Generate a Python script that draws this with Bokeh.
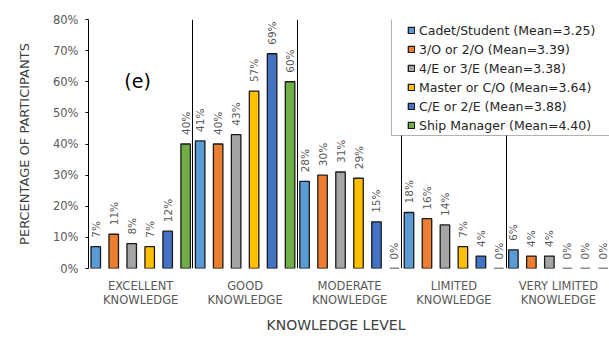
import math

from bokeh.core.properties import value
from bokeh.embed import file_html
from bokeh.models import (BoxAnnotation, ColumnDataSource, FixedTicker, Label,
                          Legend, LegendItem, PrintfTickFormatter, Range1d,
                          Title)
from bokeh.plotting import figure
from bokeh.resources import INLINE

# ---- data -------------------------------------------------------------
levels = ["EXCELLENT\nKNOWLEDGE", "GOOD\nKNOWLEDGE", "MODERATE\nKNOWLEDGE",
          "LIMITED\nKNOWLEDGE", "VERY LIMITED\nKNOWLEDGE"]
ranks = ["Cadet/Student (Mean=3.25)", "3/O or 2/O (Mean=3.39)",
         "4/E or 3/E (Mean=3.38)", "Master or C/O (Mean=3.64)",
         "C/E or 2/E (Mean=3.88)", "Ship Manager (Mean=4.40)"]
cadet = [7, 41, 28, 18, 6]
officer_3o_2o = [11, 40, 30, 16, 4]
engineer_4e_3e = [8, 43, 31, 14, 4]
master_co = [7, 57, 29, 7, 0]
engineer_ce_2e = [12, 69, 15, 4, 0]
ship_manager = [40, 60, 0, 0, 0]
series = [cadet, officer_3o_2o, engineer_4e_3e, master_co, engineer_ce_2e, ship_manager]
colors = ["#5B9BD5", "#ED7D31", "#A5A5A5", "#FFC000", "#4472C4", "#70AD47"]
y_ticks = [0, 10, 20, 30, 40, 50, 60, 70, 80]

FONT = "DejaVu Sans"
TXT = "#595959"

# ---- figure -----------------------------------------------------------
p = figure(width=609, height=338, output_backend="svg", toolbar_location=None,
           x_range=Range1d(0, 4.99), y_range=Range1d(0, 80),
           min_border_left=88, min_border_right=0, min_border_top=19,
           min_border_bottom=70, background_fill_color="white",
           border_fill_color="white")
p.outline_line_color = None

# category separators, left edge, bottom and top edges of the plot box
p.xgrid.ticker = FixedTicker(ticks=[0, 1, 2, 3, 4])
p.xgrid.grid_line_color = "black"
p.xgrid.grid_line_width = 1
p.ygrid.ticker = FixedTicker(ticks=[0, 80])
p.ygrid.grid_line_color = "black"

# y axis
p.yaxis.ticker = FixedTicker(ticks=y_ticks)
p.yaxis.formatter = PrintfTickFormatter(format="%d%%")
p.yaxis.axis_line_color = "black"
p.yaxis.major_tick_line_color = "black"
p.yaxis.major_tick_in = 0
p.yaxis.major_tick_out = 3
p.yaxis.minor_tick_line_color = None
p.yaxis.major_label_standoff = 7
p.yaxis.major_label_text_font = FONT
p.yaxis.major_label_text_font_size = "11.5px"
p.yaxis.major_label_text_color = TXT
p.yaxis.axis_label = "PERCENTAGE OF PARTICIPANTS"
p.yaxis.axis_label_standoff = 18
p.yaxis.axis_label_text_font = FONT
p.yaxis.axis_label_text_font_size = "13px"
p.yaxis.axis_label_text_font_style = "normal"
p.yaxis.axis_label_text_color = "#404040"

# x axis with two-line category names
p.xaxis.ticker = FixedTicker(ticks=[i + 0.5 for i in range(len(levels))])
p.xaxis.major_label_overrides = {i + 0.5: lab for i, lab in enumerate(levels)}
p.xaxis.axis_line_color = None
p.xaxis.major_tick_line_color = None
p.xaxis.minor_tick_line_color = None
p.xaxis.major_label_standoff = 4
p.xaxis.major_label_text_font = FONT
p.xaxis.major_label_text_font_size = "11.5px"
p.xaxis.major_label_text_line_height = 1.05
p.xaxis.major_label_text_color = TXT

# x axis title, set a little left of the plot centre
p.add_layout(Title(text="KNOWLEDGE LEVEL", align="left", offset=178,
                   standoff=8, text_font=FONT, text_font_size="14px",
                   text_font_style="normal", text_color="#404040"), "below")

# ---- bars and value labels -------------------------------------------
step = 0.1722
bar_w = 0.091
items = []
for j, (vals, col, name) in enumerate(zip(series, colors, ranks)):
    xs = [i + 0.5 + (j - 2.5) * step for i in range(len(levels))]
    src = ColumnDataSource(dict(x=xs, top=vals, lab=[f"{v}%" for v in vals]))
    r = p.vbar(x="x", top="top", width=bar_w, source=src, fill_color=col,
               line_color="#1a1a1a", line_width=1.3)
    p.text(x="x", y="top", text="lab", source=src, angle=math.pi / 2,
           text_align="left", text_baseline="middle", y_offset=-9,
           text_font=value(FONT), text_font_size="10.5px", text_color=TXT)
    items.append(LegendItem(label=name, renderers=[r]))

# ---- legend box and panel letter --------------------------------------
p.add_layout(BoxAnnotation(left=303, right=540, bottom=133, top=250,
                           left_units="screen", right_units="screen",
                           bottom_units="screen", top_units="screen",
                           fill_color="white", fill_alpha=1,
                           line_color="black", line_width=1))

legend = Legend(items=items, location=(319, 133.5), padding=1, spacing=0,
                margin=0, glyph_width=8, glyph_height=8, label_standoff=4,
                label_height=19, label_text_font=FONT,
                label_text_font_size="12.5px", label_text_color="#262626",
                border_line_color=None, background_fill_alpha=0)
p.add_layout(legend)

p.add_layout(Label(x=0.47, y=60.4, text="(e)", text_align="center",
                   text_baseline="middle", text_font=FONT,
                   text_font_size="19px", text_color="black"))

open("out.html", "w").write(file_html(p, INLINE))
